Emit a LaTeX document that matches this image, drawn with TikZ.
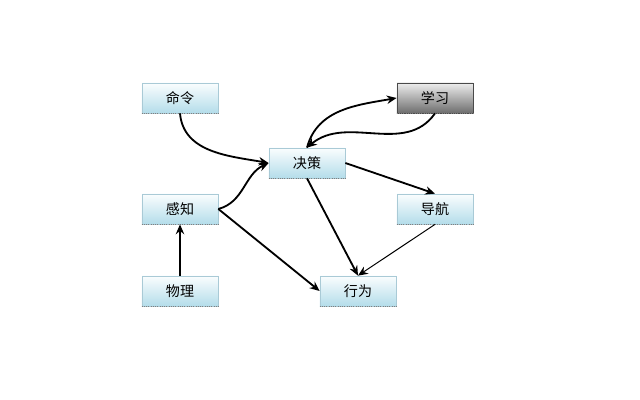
\documentclass[tikz,border=0pt]{standalone}
\usepackage{fontspec}
\usepackage{xcolor}
\usepackage{tikz}
\usetikzlibrary{arrows.meta}
\newfontfamily\cjk{Noto Sans CJK SC}
\definecolor{boxline}{HTML}{A9CAD6}
\definecolor{boxtop}{HTML}{FAFDFE}
\definecolor{boxbot}{HTML}{B4DDEA}
\definecolor{greyline}{HTML}{4A4A4A}
\definecolor{greytop}{HTML}{EDEDED}
\definecolor{greybot}{HTML}{6E6E6E}
\tikzset{
  box/.style={draw=boxline, line width=0.5pt, top color=boxtop, bottom color=boxbot,
    minimum width=1.9cm, minimum height=0.75cm, inner sep=0pt,
    font=\cjk\fontsize{10}{12}\selectfont,
    append after command={(\tikzlastnode.south west) edge[draw=gray, densely dotted, line width=0.6pt] (\tikzlastnode.south east)}},
  boxg/.style={box, draw=greyline, top color=greytop, bottom color=greybot},
  link/.style={draw=black, line width=1.3pt, -{Stealth[length=7pt,width=6pt]}},
  thin/.style={draw=black, line width=0.7pt, -{Stealth[length=7pt,width=6pt]}},
}
\begin{document}
\begin{tikzpicture}[x=0.025cm, y=-0.025cm]
  \useasboundingbox (0,0) rectangle (640,400);

  % boxes
  \node[box]  (cmd)   at (180,98)  {命令};
  \node[boxg] (learn) at (435,98)  {学习};
  \node[box]  (dec)   at (307,163) {决策};
  \node[box]  (sense) at (180,209) {感知};
  \node[box]  (nav)   at (435,209) {导航};
  \node[box]  (phys)  at (180,291) {物理};
  \node[box]  (act)   at (358,291) {行为};

  % curved links
  \draw[link] (cmd.south) to[out=-85, in=170] (dec.west);
  \draw[link] (sense.east) to[out=15, in=205] (dec.west);
  \draw[link] (dec.north) to[out=75, in=190] (learn.west);
  \draw[link] (learn.south) to[out=-125, in=40] (dec.north);

  % straight links
  \draw[link] (dec.east) -- (nav.north);
  \draw[link] (dec.south) -- (act.north);
  \draw[thin] (nav.south) -- (act.north);
  \draw[link] (sense.east) -- (act.west);
  \draw[link] (phys.north) -- (sense.south);
\end{tikzpicture}
\end{document}
